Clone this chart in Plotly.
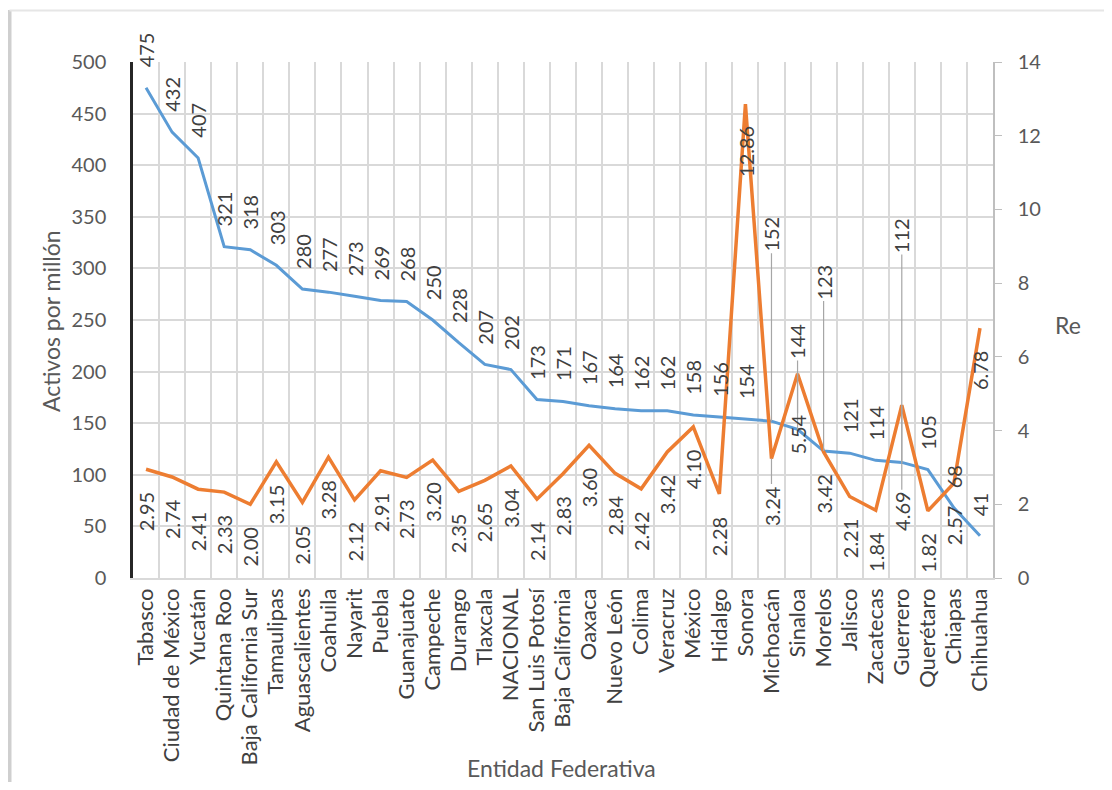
import plotly.graph_objects as go

# ---------------- data ----------------
entidades = [
    "Tabasco", "Ciudad de México", "Yucatán", "Quintana Roo", "Baja California Sur",
    "Tamaulipas", "Aguascalientes", "Coahuila", "Nayarit", "Puebla", "Guanajuato",
    "Campeche", "Durango", "Tlaxcala", "NACIONAL", "San Luis Potosí", "Baja California",
    "Oaxaca", "Nuevo León", "Colima", "Veracruz", "México", "Hidalgo", "Sonora",
    "Michoacán", "Sinaloa", "Morelos", "Jalisco", "Zacatecas", "Guerrero", "Querétaro",
    "Chiapas", "Chihuahua",
]
activos = [475, 432, 407, 321, 318, 303, 280, 277, 273, 269, 268, 250, 228, 207, 202,
           173, 171, 167, 164, 162, 162, 158, 156, 154, 152, 144, 123, 121, 114, 112,
           105, 68, 41]
re_vals = [2.95, 2.74, 2.41, 2.33, 2.00, 3.15, 2.05, 3.28, 2.12, 2.91, 2.73, 3.20,
           2.35, 2.65, 3.04, 2.14, 2.83, 3.60, 2.84, 2.42, 3.42, 4.10, 2.28, 12.86,
           3.24, 5.54, 3.42, 2.21, 1.84, 4.69, 1.82, 2.57, 6.78]
left_ticks = [0, 50, 100, 150, 200, 250, 300, 350, 400, 450, 500]
right_ticks = [0, 2, 4, 6, 8, 10, 12, 14]

# ---------------- styling ----------------
BLUE = "#5B9BD5"
ORANGE = "#ED7D31"
GRID = "#d9d9d9"
FONT = "Lato"
LABEL_FONT = dict(family=FONT, size=20, color="#404040")
TITLE_FONT = dict(family=FONT, size=23, color="#595959")

# manually moved data labels (pixel offsets of label centre, with leader lines)
leader_blue = {"Michoacán": -187, "Sinaloa": -88, "Morelos": -169, "Guerrero": -227}
leader_orange = {"Michoacán": 47, "Sinaloa": 61, "Guerrero": 106}

fig = go.Figure()
fig.add_trace(go.Scatter(x=entidades, y=activos, mode="lines", yaxis="y",
                         name="Activos por millón", line=dict(color=BLUE, width=3)))
fig.add_trace(go.Scatter(x=entidades, y=re_vals, mode="lines", yaxis="y2",
                         name="Re", line=dict(color=ORANGE, width=3.5)))

annots = []
for name, v in zip(entidades, activos):
    base = dict(x=name, y=v, xref="x", yref="y", text=str(v), textangle=-90, font=LABEL_FONT)
    if name in leader_blue:
        base.update(showarrow=True, arrowhead=0, arrowwidth=1.2, arrowcolor="#a6a6a6",
                    ax=0, ay=leader_blue[name])
    else:
        base.update(showarrow=False, yanchor="bottom", yshift=18)
    annots.append(base)

for name, v in zip(entidades, re_vals):
    base = dict(x=name, y=v, xref="x", yref="y2", text=f"{v:.2f}", textangle=-90, font=LABEL_FONT)
    if name in leader_orange:
        base.update(showarrow=True, arrowhead=0, arrowwidth=1.2, arrowcolor="#a6a6a6",
                    ax=0, ay=leader_orange[name])
    else:
        base.update(showarrow=False, yanchor="top", yshift=-20)
    annots.append(base)

# axis titles
annots.append(dict(text="Activos por millón", xref="paper", yref="paper", x=-0.0953, y=0.498,
                   xanchor="center", yanchor="middle", textangle=-90, showarrow=False,
                   font=TITLE_FONT))
annots.append(dict(text="Entidad Federativa", xref="paper", yref="paper", x=0.4988, y=-0.368,
                   xanchor="center", yanchor="middle", showarrow=False, font=TITLE_FONT))
annots.append(dict(text="Re", xref="paper", yref="paper", x=1.0872, y=0.490,
                   xanchor="center", yanchor="middle", showarrow=False, font=TITLE_FONT))

shapes = [
    dict(type="line", xref="paper", yref="paper", x0=-0.1436, x1=-0.1436, y0=1.1008, y1=-0.42,
         line=dict(color="#cfcfcf", width=4)),
    dict(type="line", xref="paper", yref="paper", x0=-0.1436, x1=1.14, y0=1.0998, y1=1.0998,
         line=dict(color="#e6e6e6", width=2)),
]

# page has an 8px body margin: figure is offset by 8px, so margins are reduced accordingly
fig.update_layout(
    width=1096, height=774,
    margin=dict(l=125, r=111, t=54, b=204),
    paper_bgcolor="white", plot_bgcolor="white",
    showlegend=False,
    font=dict(family=FONT, color="#595959"),
    xaxis=dict(type="category", tickangle=-90, tickson="boundaries", range=[-0.5, 32.5],
               showgrid=True, gridcolor=GRID, gridwidth=1.5,
               showline=True, linecolor=GRID, linewidth=1.5, ticks="",
               tickfont=dict(family=FONT, size=22, color="#404040")),
    yaxis=dict(range=[0, 500], tickvals=left_ticks, showgrid=True, gridcolor=GRID, gridwidth=1.5,
               showline=True, linecolor="#262626", linewidth=2.5, ticks="", zeroline=False,
               ticklabelstandoff=20, tickfont=dict(family=FONT, size=20, color="#595959")),
    yaxis2=dict(overlaying="y", side="right", range=[0, 14], tickvals=right_ticks,
                showgrid=False, showline=True, linecolor="#bfbfbf", linewidth=1.5,
                ticks="outside", ticklen=7, tickcolor="#bfbfbf", zeroline=False,
                ticklabelstandoff=12, tickfont=dict(family=FONT, size=20, color="#595959")),
    annotations=annots,
    shapes=shapes,
)

fig.write_html("out.html")
